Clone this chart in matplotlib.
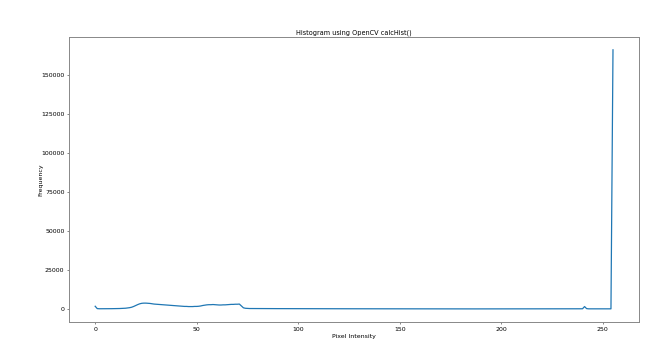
import numpy as np
import matplotlib
matplotlib.use("Agg")
import matplotlib.pyplot as plt

# histogram counts, bins 0..255
hist_low = [1800, 300,
            200, 200, 200, 200, 250, 250, 250, 300, 300, 300, 350, 400, 450,
            550, 700, 900, 1200, 1700, 2300,
            2900, 3400, 3700, 3800, 3800, 3700, 3600, 3400, 3200, 3100,
            3000, 2900, 2800, 2700, 2600, 2500, 2400, 2300, 2200, 2100, 2000, 1900, 1800, 1700, 1700,
            1600, 1600, 1600, 1700, 1700, 1800, 2000,
            2300, 2500, 2700, 2800, 2800, 2900, 2800, 2700,
            2600, 2600, 2700, 2700, 2800, 2900,
            3000, 3000, 3100, 3100, 3200, 2000,
            800, 500, 400, 350]
hist_mid = [340, 330, 330, 320, 320, 310, 310, 300, 300, 300,
            290, 290, 290, 280, 280, 280, 270, 270, 270, 260,
            260, 260, 250, 250, 250, 250, 240, 240, 240, 240,
            230, 230, 230, 230, 220, 220, 220, 220, 210, 210,
            210, 210, 200, 200, 200, 200, 200, 190, 190, 190,
            190, 190, 180, 180, 180, 180, 180, 180, 170, 170,
            170, 170, 170, 170, 160, 160, 160, 160, 160, 160,
            150, 150, 150, 150, 150, 150, 150, 140, 140, 140,
            140, 140, 140, 140, 140, 130, 130, 130, 130, 130,
            130, 130, 130, 130, 120, 120, 120, 120, 120, 120,
            120, 120, 120, 110, 110, 110, 110, 110, 110, 110,
            110, 110, 110, 110, 100, 100, 100, 100, 100, 100,
            100, 100, 100, 100, 100, 100, 100, 100, 100, 100,
            100, 100, 100, 100, 110, 110, 110, 110, 110, 110,
            110, 110, 120, 120, 120, 120, 120, 120, 130, 130,
            130, 130, 130, 140, 140, 140, 150, 150, 150, 160,
            160, 170, 180]
hist_high = [200, 1600, 300,
             150, 150, 150, 150, 150, 150, 150, 150, 150, 150, 150, 150,
             166000]

hist = np.array(hist_low + hist_mid + hist_high)

fig = plt.figure(figsize=(6.6, 3.51), dpi=100)
ax = fig.add_axes([0.105, 0.083, 0.863, 0.812])
ax.plot(hist, color="#1f77b4", linewidth=0.9)
ax.set_title("Histogram using OpenCV calcHist()", fontsize=4.7, pad=2)
ax.set_xlabel("Pixel Intensity", fontsize=4.5, labelpad=1.5)
ax.set_ylabel("Frequency", fontsize=4.5)
ax.yaxis.set_label_coords(-0.046, 0.5)
ax.set_xticks([0, 50, 100, 150, 200, 250])
ax.set_yticks([0, 25000, 50000, 75000, 100000, 125000, 150000])
ax.tick_params(labelsize=4.5, length=1.5, width=0.5, pad=2, color="#555555")
for s in ax.spines.values():
    s.set_linewidth(0.7)
    s.set_color("#888888")

plt.savefig("out.png", dpi=100)
